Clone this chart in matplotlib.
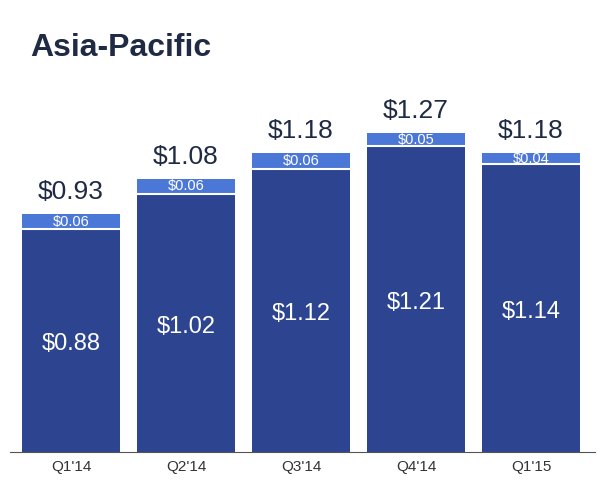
import matplotlib
matplotlib.use("Agg")
import matplotlib.pyplot as plt
plt.rcParams['font.family'] = ['Liberation Sans', 'DejaVu Sans']

quarters = ["Q1'14", "Q2'14", "Q3'14", "Q4'14", "Q1'15"]
base = [0.88, 1.02, 1.12, 1.21, 1.14]
extra = [0.06, 0.06, 0.06, 0.05, 0.04]
totals = [0.93, 1.08, 1.18, 1.27, 1.18]

dark = "#2d4591"
light = "#4b78d6"

fig = plt.figure(figsize=(6.02, 4.9), dpi=100)
ax = fig.add_axes([10/602, 38/490, 585/602, 392/490])
x = list(range(len(quarters)))
ax.bar(x, base, width=0.85, color=dark, edgecolor="none")
ax.bar(x, extra, bottom=base, width=0.85, color=light, edgecolor="none")
for i in x:
    ax.plot([i-0.425, i+0.425], [base[i], base[i]], color="white", lw=1.5)
    ax.text(i, base[i]/2 - 0.015, f"${base[i]:.2f}", ha="center", va="center", color="white", fontsize=17)
    ax.text(i, base[i] + extra[i]/2, f"${extra[i]:.2f}", ha="center", va="center", color="white", fontsize=10.5)
    ax.text(i, base[i] + extra[i] + 0.04, f"${totals[i]:.2f}", ha="center", va="bottom", color="#1f2a44", fontsize=19)
ax.set_xlim(-0.53, 4.557)
ax.set_ylim(0, 392/253)
ax.set_xticks(x)
ax.set_xticklabels(quarters, fontsize=11, color="#333333")
ax.tick_params(axis="x", length=0, pad=6)
ax.set_yticks([])
for s in ["top", "right", "left"]:
    ax.spines[s].set_visible(False)
ax.spines["bottom"].set_color("#555555")
fig.text(30/602, 1-48/490, "Asia-Pacific", fontsize=23, fontweight="bold", color="#1f2a44", va="center", ha="left")
fig.savefig("out.png", dpi=100)
